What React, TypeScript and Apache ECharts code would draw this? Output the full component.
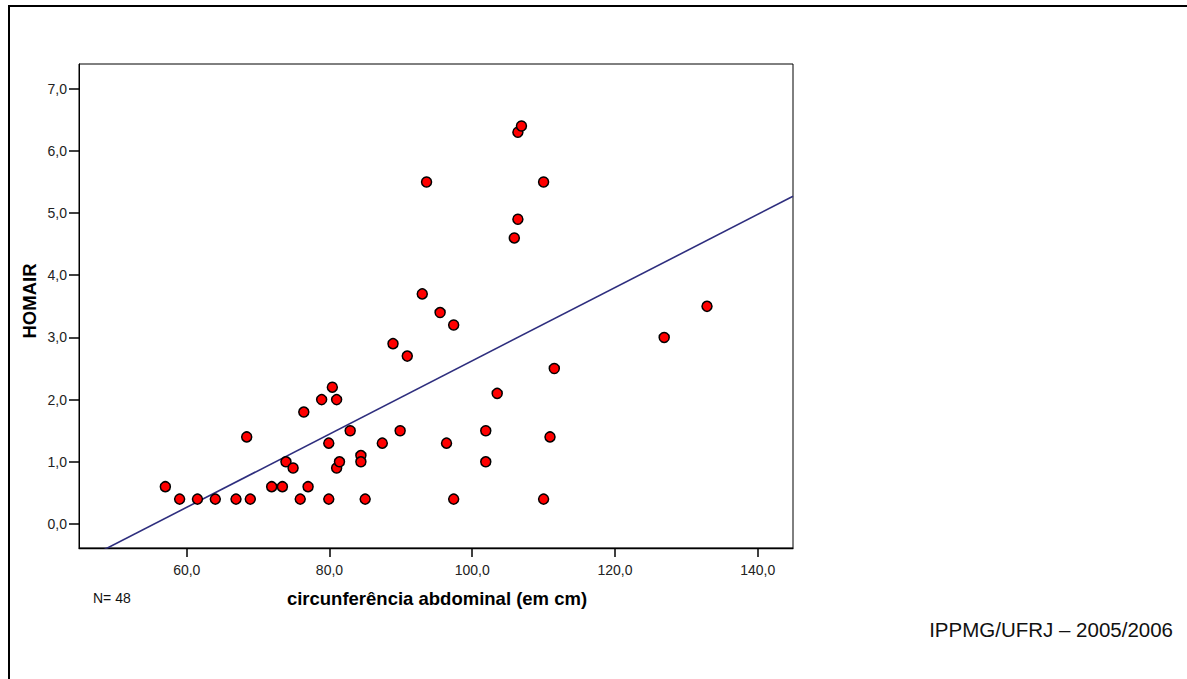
import React, { useEffect, useRef } from "react";
import * as echarts from "echarts";

const waistCm: number[] = [
  57.0, 59.0, 61.5, 64.0, 66.9, 68.9, 68.4, 71.9, 73.4, 73.9,
  74.9, 75.9, 77.0, 76.4, 78.9, 80.4, 81.0, 79.9, 79.9, 81.0,
  81.4, 82.9, 84.4, 84.4, 85.0, 87.4, 89.9, 88.9, 90.9, 93.0,
  93.6, 95.5, 96.4, 97.4, 97.4, 101.9, 101.9, 103.5, 105.9, 106.4,
  106.4, 106.9, 110.0, 110.0, 110.9, 111.5, 126.9, 132.9,
];
const homaIr: number[] = [
  0.6, 0.4, 0.4, 0.4, 0.4, 0.4, 1.4, 0.6, 0.6, 1.0,
  0.9, 0.4, 0.6, 1.8, 2.0, 2.2, 2.0, 1.3, 0.4, 0.9,
  1.0, 1.5, 1.1, 1.0, 0.4, 1.3, 1.5, 2.9, 2.7, 3.7,
  5.5, 3.4, 1.3, 3.2, 0.4, 1.5, 1.0, 2.1, 4.6, 4.9,
  6.3, 6.4, 5.5, 0.4, 1.4, 2.5, 3.0, 3.5,
];
const fitX: number[] = [44.9, 144.95];
const fitY: number[] = [-0.62, 5.27];
const xTicks: number[] = [60, 80, 100, 120, 140];
const yTicks: number[] = [0, 1, 2, 3, 4, 5, 6, 7];

const FONT = "'Liberation Sans', Arial, Helvetica, sans-serif";
const fmt = (v: number) => v.toFixed(1).replace(".", ",");

export default function App() {
  const ref = useRef<HTMLDivElement>(null);
  useEffect(() => {
    if (!ref.current) return;
    const chart = echarts.init(ref.current, undefined, { renderer: "svg" });
    chart.setOption({
      animation: false,
      backgroundColor: "#ffffff",
      grid: {
        left: 79,
        top: 64,
        right: 394,
        bottom: 131,
        show: true,
        borderColor: "#000000",
        borderWidth: 1,
        backgroundColor: "transparent",
      },
      xAxis: {
        type: "value",
        min: 44.9,
        max: 144.95,
        splitLine: { show: false },
        axisLine: { show: true, onZero: false, lineStyle: { color: "#000", width: 1.3 } },
        axisTick: { show: true, customValues: xTicks, length: 9, lineStyle: { color: "#000", width: 1.5 } },
        axisLabel: {
          customValues: xTicks,
          formatter: (v: number) => fmt(v),
          color: "#222",
          fontFamily: FONT,
          fontSize: 14,
          margin: 15,
        },
      },
      yAxis: {
        type: "value",
        min: -0.386,
        max: 7.397,
        splitLine: { show: false },
        axisLine: { show: true, onZero: false, lineStyle: { color: "#000", width: 1 } },
        axisTick: { show: true, customValues: yTicks, length: 10, lineStyle: { color: "#000", width: 1.5 } },
        axisLabel: {
          customValues: yTicks,
          formatter: (v: number) => fmt(v),
          color: "#222",
          fontFamily: FONT,
          fontSize: 14,
          margin: 12,
        },
      },
      series: [
        {
          type: "line",
          data: fitX.map((x, i) => [x, fitY[i]]),
          showSymbol: false,
          symbol: "none",
          clip: true,
          lineStyle: { color: "#2e2e7e", width: 1.6 },
          z: 2,
        },
        {
          type: "scatter",
          data: waistCm.map((x, i) => [x, homaIr[i]]),
          symbol: "circle",
          symbolSize: 10,
          itemStyle: { color: "#ff0000", borderColor: "#000000", borderWidth: 1.5, opacity: 1 },
          z: 3,
        },
      ],
      graphic: [
        { type: "line", shape: { x1: 8, y1: 6, x2: 1200, y2: 6 }, style: { stroke: "#000", lineWidth: 2 } },
        { type: "line", shape: { x1: 9, y1: 5, x2: 9, y2: 700 }, style: { stroke: "#000", lineWidth: 2 } },
        {
          type: "text",
          x: 437,
          y: 598,
          style: {
            text: "circunferência abdominal (em cm)",
            fontFamily: FONT,
            fontWeight: "bold",
            fontSize: 18.5,
            fill: "#000",
            align: "center",
            verticalAlign: "middle",
          },
        },
        {
          type: "text",
          x: 29,
          y: 301,
          rotation: Math.PI / 2,
          style: {
            text: "HOMAIR",
            fontFamily: FONT,
            fontWeight: "bold",
            fontSize: 18.5,
            fill: "#000",
            align: "center",
            verticalAlign: "middle",
          },
        },
        {
          type: "text",
          x: 93,
          y: 598,
          style: {
            text: "N= 48",
            fontFamily: FONT,
            fontSize: 14,
            fill: "#111",
            align: "left",
            verticalAlign: "middle",
          },
        },
        {
          type: "text",
          x: 1173,
          y: 629,
          style: {
            text: "IPPMG/UFRJ – 2005/2006",
            fontFamily: FONT,
            fontSize: 20.5,
            fill: "#111",
            align: "right",
            verticalAlign: "middle",
          },
        },
      ],
    });
    return () => chart.dispose();
  }, []);
  return (
    <div
      ref={ref}
      style={{ position: "absolute", left: 0, top: 0, width: 1187, height: 679, overflow: "hidden" }}
    />
  );
}
